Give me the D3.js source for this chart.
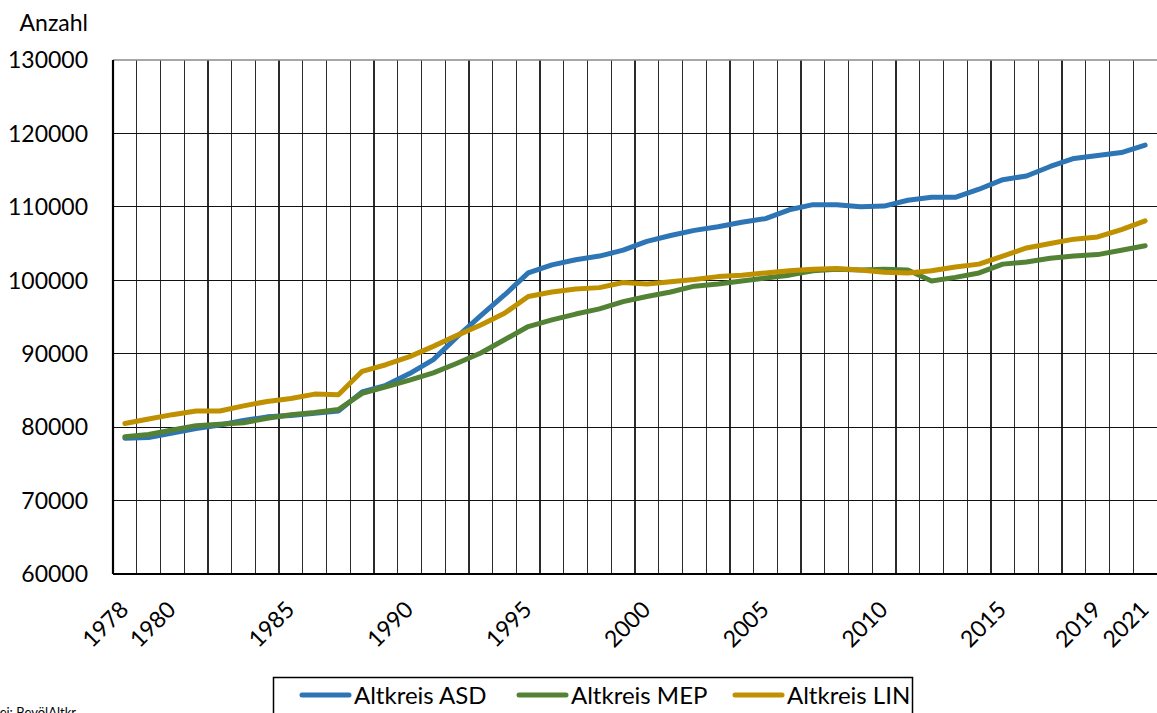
<!DOCTYPE html>
<html><head><meta charset="utf-8">
<script src="https://cdn.jsdelivr.net/npm/d3@7"></script>
<style>
html,body{margin:0;padding:0;background:#fff;overflow:hidden;}
svg{display:block;font-family:Lato,"Open Sans",sans-serif;}
</style></head>
<body>
<svg id="chart" width="1157" height="713"></svg>
<script>
const years = d3.range(1978, 2022);
const tickLabels = ["1978","1980","1985","1990","1995","2000","2005","2010","2015","2019","2021"];
const yTicks = [60000,70000,80000,90000,100000,110000,120000,130000];
const seriesNames = ["Altkreis ASD","Altkreis MEP","Altkreis LIN"];
const seriesColors = ["#2E75B6","#548235","#BF9000"];
const asd = [78500,78600,79200,79800,80300,80900,81400,81600,81900,82200,84800,85700,87300,89200,92300,95200,98000,101000,102100,102800,103300,104100,105300,106100,106800,107300,107900,108400,109600,110300,110300,110000,110100,110900,111300,111300,112400,113700,114200,115500,116600,117000,117400,118400];
const mep = [78700,79000,79600,80200,80400,80600,81200,81700,82000,82400,84600,85500,86400,87400,88700,90100,91900,93700,94600,95400,96100,97100,97800,98400,99200,99500,99900,100300,100700,101300,101500,101400,101500,101400,99900,100400,101000,102200,102500,103000,103300,103500,104100,104700];
const lin = [80500,81100,81700,82200,82200,82900,83500,83900,84500,84400,87600,88500,89600,91000,92500,93900,95500,97800,98400,98800,99000,99700,99500,99800,100100,100500,100700,101000,101300,101500,101600,101400,101100,101000,101300,101800,102200,103300,104400,105000,105600,105900,106900,108100];

const svg = d3.select("#chart");
const L = 113, R = 1157, T = 60, B = 574;
const x = d3.scaleBand().domain(years).range([L, R]).padding(0);
const y = d3.scaleLinear().domain([60000,130000]).range([B, T]);
const cx = yr => x(yr) + x.bandwidth()/2;

const g = svg.append("g");
g.selectAll("line.v").data(years.slice(1)).enter().append("line")
  .attr("x1", d => x(d)).attr("x2", d => x(d))
  .attr("y1", T).attr("y2", B)
  .attr("stroke", "#2b2b2b").attr("stroke-width", 1.2).attr("shape-rendering","crispEdges");
g.selectAll("line.h").data(yTicks.filter(v => v>60000 && v<130000)).enter().append("line")
  .attr("x1", L).attr("x2", R)
  .attr("y1", d => y(d)).attr("y2", d => y(d))
  .attr("stroke", "#111").attr("stroke-width", 1.2).attr("shape-rendering","crispEdges");
g.append("line").attr("x1", L).attr("x2", R).attr("y1", T).attr("y2", T)
  .attr("stroke", "#8a8a8a").attr("stroke-width", 1.5);
g.append("line").attr("x1", L).attr("x2", L).attr("y1", T).attr("y2", B)
  .attr("stroke", "#000").attr("stroke-width", 2.2);
g.append("line").attr("x1", L).attr("x2", R).attr("y1", B).attr("y2", B)
  .attr("stroke", "#000").attr("stroke-width", 2.2);

// y labels
svg.append("g").selectAll("text").data(yTicks).enter().append("text")
  .attr("x", 88).attr("y", d => y(d)).attr("dy", "0.36em")
  .attr("text-anchor", "end").attr("font-size", 23).attr("fill", "#000")
  .text(d => d);
svg.append("text").attr("x", 88).attr("y", 31).attr("text-anchor","end")
  .attr("font-size", 23).attr("fill","#000").text("Anzahl");

// x labels
svg.append("g").selectAll("text").data(tickLabels).enter().append("text")
  .attr("transform", d => `translate(${cx(+d)+5},${611}) rotate(-45)`)
  .attr("text-anchor", "end")
  .attr("font-size", 23).attr("fill", "#000")
  .text(d => d);

// lines
const line = d3.line().x((d,i) => cx(years[i])).y(d => y(d));
[asd, mep, lin].forEach((s, k) => {
  svg.append("path").datum(s).attr("d", line)
    .attr("fill","none").attr("stroke", seriesColors[k])
    .attr("stroke-width", 5).attr("stroke-linejoin","round").attr("stroke-linecap","round");
});

// legend
svg.append("rect").attr("x", 273.5).attr("y", 677.5).attr("width", 639).attr("height", 60)
  .attr("fill","#fff").attr("stroke","#000").attr("stroke-width", 1.5);
const legX = [302, 519, 735];
seriesNames.forEach((n, k) => {
  svg.append("line").attr("x1", legX[k]).attr("x2", legX[k]+47).attr("y1", 695).attr("y2", 695)
    .attr("stroke", seriesColors[k]).attr("stroke-width", 5).attr("stroke-linecap","round");
  svg.append("text").attr("x", legX[k]+52).attr("y", 695).attr("dy","0.36em")
    .attr("font-size", 24).attr("fill","#000").text(n);
});

// source note (cut off at the bottom edge, as in the original)
svg.append("text").attr("x", 76).attr("y", 717).attr("text-anchor","end")
  .attr("font-size", 13).attr("fill","#000").text("Datei: BevölAltkr");
</script>
</body></html>
